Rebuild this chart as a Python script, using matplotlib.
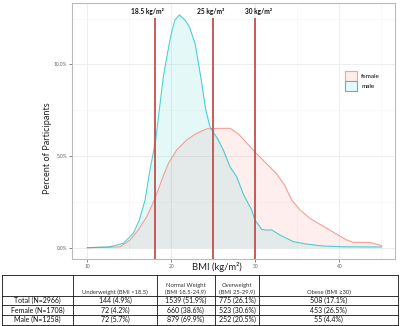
import matplotlib
matplotlib.use("Agg")
import matplotlib.pyplot as plt
from matplotlib.patches import Patch
from matplotlib.lines import Line2D

# ---- data ----
male_x = [10, 12.7, 14.29, 15.48, 16.19, 16.87, 17.46, 18.14, 18.57, 19.05, 19.76, 20.1, 20.44, 20.95,
          21.63, 22.14, 22.82, 23.5, 24.1, 24.6, 25.0, 25.48, 26.19, 27.0, 27.78, 28.6, 29.57, 29.96,
          30.76, 31.3, 31.95, 32.94, 34.52, 36.1, 38.1, 40.5, 45]
male_y = [0, 0.05, 0.24, 0.79, 1.51, 2.6, 4.24, 5.88, 7.51, 9.33, 11.15, 11.9, 12.42, 12.7,
          12.42, 12.06, 11.15, 9.33, 7.51, 6.6, 6.3, 5.97, 5.33, 4.4, 3.87, 2.9, 2.06, 1.51,
          1.0, 0.96, 0.97, 0.69, 0.33, 0.2, 0.09, 0.05, 0.04]
female_x = [10, 12.5, 13.9, 15.08, 16.07, 17.07, 17.98, 18.86, 19.65, 20.64, 21.83, 23.02, 24.2,
            25.5, 27.0, 28.0, 29.0, 30.0, 31.3, 32.5, 33.5, 34.33, 35.32, 36.5, 38.5, 40.0, 40.88,
            41.67, 43.65, 45.05]
female_y = [0, 0.02, 0.05, 0.42, 0.97, 1.69, 2.6, 3.69, 4.6, 5.33, 5.88, 6.24, 6.48,
            6.51, 6.51, 6.2, 5.7, 5.2, 4.6, 4.05, 3.4, 2.6, 2.06, 1.6, 1.06, 0.65, 0.42,
            0.29, 0.29, 0.11]
cutoffs = [18.05, 25.0, 29.96]
cutoff_labels = ["18.5 kg/m²", "25 kg/m²", "30 kg/m²"]
x_ticks = [10, 20, 30, 40]
y_ticks = [0, 5, 10]
y_tick_labels = ["0.0%", "5.0%", "10.0%"]

col_headers = ["", "Underweight (BMI <18.5)", "Normal Weight\n(BMI 18.5-24.9)",
               "Overweight\n(BMI 25-29.9)", "Obese (BMI \u226530)"]
row_labels = ["Total (N=2966)", "Female (N=1708)", "Male (N=1258)"]
table_values = [["144 (4.9%)", "1539 (51.9%)", "775 (26.1%)", "508 (17.1%)"],
                ["72 (4.2%)", "660 (38.6%)", "523 (30.6%)", "453 (26.5%)"],
                ["72 (5.7%)", "879 (69.9%)", "252 (20.5%)", "55 (4.4%)"]]

FEMALE = "#F8766D"
MALE = "#00BFC4"
W, H = 400, 326

plt.rcParams['font.family'] = ['Lato', 'DejaVu Sans']
fig = plt.figure(figsize=(W / 100, H / 100), dpi=100)

def fx(px):
    return px / W

def fy(py):
    return 1 - py / H

ax = fig.add_axes([fx(72.3), fy(259.3), fx(395) - fx(72.3), fy(3.3) - fy(259.3)])
ax.set_xlim(8.21, 46.63)
ax.set_ylim(-0.633, 13.33)

ax.set_xticks(x_ticks)
ax.set_xticks([15, 25, 35, 45], minor=True)
ax.set_yticks(y_ticks)
ax.set_yticklabels(y_tick_labels)
ax.set_yticks([2.5, 7.5, 12.5], minor=True)
ax.grid(True, which='major', color='#EBEBEB', lw=0.6)
ax.grid(True, which='minor', color='#F4F4F4', lw=0.4)
ax.set_axisbelow(True)
ax.tick_params(which='major', length=2, width=0.5, color='#555555', labelsize=3.5,
               labelcolor='#666666', pad=1.5)
ax.tick_params(which='minor', length=0)
for s in ax.spines.values():
    s.set_color('#BBBBBB')
    s.set_linewidth(0.8)

ax.fill_between(female_x, female_y, color=FEMALE, alpha=0.11, lw=0)
ax.plot(female_x, female_y, color=FEMALE, lw=0.8, alpha=0.7)
ax.fill_between(male_x, male_y, color=MALE, alpha=0.10, lw=0)
ax.plot(male_x, male_y, color=MALE, lw=0.8, alpha=0.7)

for c in cutoffs:
    ax.plot([c, c], [-0.633, 12.53], color='#C0504D', lw=1.3, solid_capstyle='butt')

for lab, px in zip(cutoff_labels, [147.7, 210.7, 259.0]):
    fig.text(fx(px), fy(11.5), lab, ha='center', va='center', fontsize=4.8,
             fontweight='bold', color='#111111')

fig.text(fx(47), fy(148), "Percent of Participants", rotation=90, ha='center', va='center',
         fontsize=6.6, color='#222222')
fig.text(fx(217), fy(267), "BMI (kg/m²)", ha='center', va='center', fontsize=6.8, color='#222222')

fig.legend(handles=[Patch(facecolor='#FDEDEC', edgecolor='#F2A29C', lw=0.8, label='female'),
                    Patch(facecolor='#E6F8F9', edgecolor='#3CC3C6', lw=0.8, label='male')],
           loc='upper left', bbox_to_anchor=(fx(344.5), fy(71.5)), frameon=False,
           fontsize=4.6, handlelength=2.0, handleheight=1.9, labelspacing=0.05,
           borderpad=0, borderaxespad=0, handletextpad=0.6)

# ---- table ----
col_x = [1.7, 73.3, 156.7, 215.0, 259.3, 398.0]
row_y = [274.7, 295.7, 305.3, 314.7, 324.5]
lc = '#111111'
for xx in col_x:
    fig.add_artist(Line2D([fx(xx), fx(xx)], [fy(row_y[0]), fy(row_y[-1])], color=lc, lw=0.6))
for yy in row_y:
    fig.add_artist(Line2D([fx(col_x[0]), fx(col_x[-1])], [fy(yy), fy(yy)], color=lc, lw=0.6))

for j, hdr in enumerate(col_headers):
    if not hdr:
        continue
    cx = (col_x[j] + col_x[j + 1]) / 2
    fig.text(fx(cx), fy(row_y[1] - 1.0), hdr, ha='center', va='bottom', fontsize=4.2,
             color='#333333', linespacing=1.25)

for i, rl in enumerate(row_labels):
    cy = (row_y[i + 1] + row_y[i + 2]) / 2
    fig.text(fx((col_x[0] + col_x[1]) / 2), fy(cy), rl, ha='center', va='center',
             fontsize=5.0, color='#111111')
    for j, v in enumerate(table_values[i]):
        cx = (col_x[j + 1] + col_x[j + 2]) / 2
        fig.text(fx(cx), fy(cy), v, ha='center', va='center', fontsize=5.0, color='#111111')

fig.savefig("out.png", dpi=100, facecolor='white')
